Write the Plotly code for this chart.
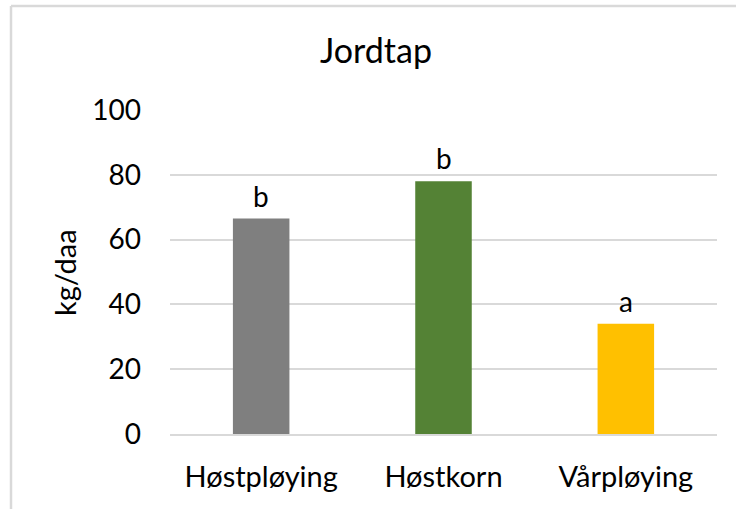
import plotly.graph_objects as go

# Soil loss per tillage practice
categories = ["Høstpløying", "Høstkorn", "Vårpløying"]
values = [66.5, 78.0, 34.0]
letters = ["b", "b", "a"]
colors = ["#7f7f7f", "#548235", "#ffc000"]
y_ticks = [0, 20, 40, 60, 80, 100]

W, H = 736, 509
ML, MR, MT, MB = 170, 19, 110, 75
PW, PH = W - ML - MR, H - MT - MB


def px_x(px):
    return (px - ML) / PW


def px_y(py):
    return (H - MB - py) / PH


FONT = "Lato"

fig = go.Figure(
    go.Bar(
        x=categories,
        y=values,
        marker=dict(color=colors, line=dict(width=0)),
        width=0.31,
        hoverinfo="x+y",
    )
)

# Significance letters above each bar
for cat, val, let in zip(categories, values, letters):
    fig.add_annotation(
        x=cat, y=val, text=let, showarrow=False,
        yanchor="bottom", yshift=4,
        font=dict(family=FONT, size=28, color="#000000"),
    )

# Y axis title
fig.add_annotation(
    xref="paper", yref="paper", x=px_x(64), y=px_y(273),
    text="kg/daa", textangle=-90, showarrow=False,
    xanchor="center", yanchor="middle",
    font=dict(family=FONT, size=29, color="#000000"),
)

# Chart-area frame (top and left edges)
border = "#d9d9d9"
fig.add_shape(type="line", xref="paper", yref="paper",
              x0=px_x(11), x1=px_x(740), y0=px_y(6), y1=px_y(6),
              line=dict(color=border, width=2.5))
fig.add_shape(type="line", xref="paper", yref="paper",
              x0=px_x(11), x1=px_x(11), y0=px_y(6), y1=px_y(512),
              line=dict(color=border, width=2.5))

fig.update_layout(
    width=W, height=H,
    margin=dict(l=ML, r=MR, t=MT, b=MB, pad=0),
    paper_bgcolor="white", plot_bgcolor="white",
    showlegend=False,
    title=dict(
        text="Jordtap", x=(376) / W, xanchor="center",
        y=1 - 51 / H, yanchor="middle", yref="container",
        font=dict(family=FONT, size=34, color="#000000"),
    ),
    xaxis=dict(
        showline=True, linecolor="#d9d9d9", linewidth=1.5,
        ticks="", ticklabelstandoff=16,
        tickfont=dict(family=FONT, size=29, color="#000000"),
    ),
    yaxis=dict(
        range=[0, 100], tickvals=y_ticks,
        showgrid=True, gridcolor="#d9d9d9", gridwidth=1.5,
        zeroline=False, showline=False, ticks="",
        ticklabelstandoff=28,
        tickfont=dict(family=FONT, size=28, color="#000000"),
    ),
)

fig.write_html("out.html")
